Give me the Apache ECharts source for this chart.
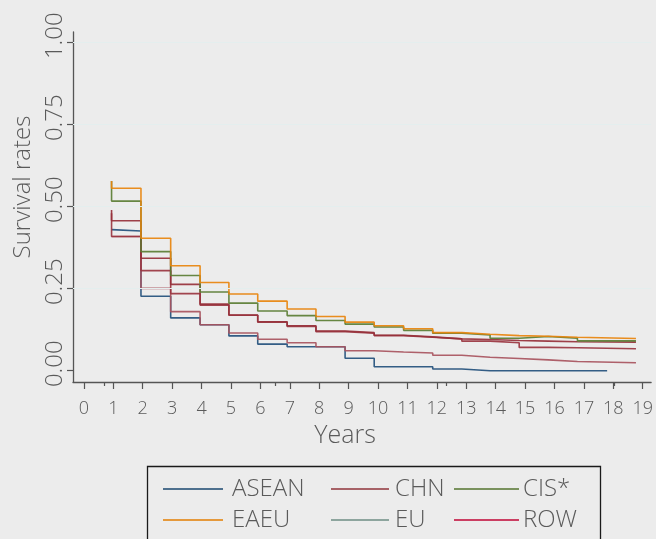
<!DOCTYPE html>
<html>
<head>
<meta charset="utf-8">
<script src="https://cdn.jsdelivr.net/npm/echarts@6/dist/echarts.min.js"></script>
<style>
html, body { margin: 0; padding: 0; background: #ececec; }
#main { width: 656px; height: 539px; }
</style>
</head>
<body>
<div id="main"></div>
<script>
const stepYears = [0.94, 1.94, 2.95, 3.95, 4.93, 5.91, 6.91, 7.89, 8.88, 9.87, 10.87, 11.86, 12.85, 13.81, 14.80, 15.79, 16.78];
const endYear = 18.77;
const endYearASEAN = 17.79;

// survival rate: value before the first step, then the level after each step
const startASEAN = 0.43;
const ratesASEAN = [0.426, 0.227, 0.161, 0.140, 0.106, 0.081, 0.073, 0.073, 0.038, 0.012, 0.012, 0.005, 0.0, 0.0, 0.0, 0.0, 0.0];
const startCHN = 0.409;
const ratesCHN = [0.409, 0.251, 0.180, 0.140, 0.115, 0.096, 0.085, 0.073, 0.061, 0.057, 0.054, 0.047, 0.041, 0.037, 0.033, 0.028, 0.024];
const startCIS = 0.578;
const ratesCIS = [0.517, 0.363, 0.290, 0.240, 0.206, 0.182, 0.168, 0.153, 0.142, 0.133, 0.123, 0.114, 0.109, 0.099, 0.104, 0.099, 0.091];
const startEAEU = 0.578;
const ratesEAEU = [0.556, 0.404, 0.320, 0.269, 0.234, 0.212, 0.188, 0.165, 0.148, 0.137, 0.128, 0.116, 0.111, 0.107, 0.105, 0.102, 0.098];
const startEU = 0.49;
const ratesEU = [0.457, 0.343, 0.263, 0.203, 0.170, 0.149, 0.137, 0.121, 0.116, 0.108, 0.103, 0.097, 0.095, 0.092, 0.090, 0.088, 0.087];
const startROW = 0.48;
const ratesROW = [0.409, 0.305, 0.235, 0.200, 0.169, 0.148, 0.135, 0.119, 0.114, 0.107, 0.102, 0.097, 0.090, 0.085, 0.071, 0.070, 0.067];

const xTicks = [0, 1, 2, 3, 4, 5, 6, 7, 8, 9, 10, 11, 12, 13, 14, 15, 16, 17, 18, 19];
const xMinorTicks = [0.70, 6.49, 12.33, 18.03];
const yTicks = [0, 0.25, 0.5, 0.75, 1];

const textColor = '#5a5a5a';
const axisColor = '#555555';
const font = '"Open Sans", sans-serif';
const weight = 300;

function buildPoints(start, rates, stop) {
  const pts = [[stepYears[0], start]];
  rates.forEach((v, i) => pts.push([stepYears[i], v]));
  pts.push([stop, rates[rates.length - 1]]);
  return pts;
}

function curve(name, color, start, rates, stop) {
  return {
    name: name,
    type: 'line',
    step: 'end',
    symbol: 'none',
    silent: true,
    lineStyle: { color: color, width: 1.6, opacity: 0.92 },
    itemStyle: { color: color },
    data: buildPoints(start, rates, stop)
  };
}

const series = [
  curve('ASEAN', '#23507c', startASEAN, ratesASEAN, endYearASEAN),
  curve('CHN', '#a8545e', startCHN, ratesCHN, endYear),
  curve('ROW', '#9a3540', startROW, ratesROW, endYear),
  curve('EU', '#96303a', startEU, ratesEU, endYear),
  curve('CIS*', '#5a7d33', startCIS, ratesCIS, endYear),
  curve('EAEU', '#e8840c', startEAEU, ratesEAEU, endYear)
];
// faint horizontal grid lines
series[0].markLine = {
  silent: true,
  symbol: 'none',
  label: { show: false },
  lineStyle: { color: '#e4eeee', width: 1, type: 'solid' },
  data: yTicks.slice(1).map(v => ({ yAxis: v }))
};

function legendItem(name, color, left, top, width, gap) {
  return {
    data: [{ name: name, itemStyle: { color: color } }],
    left: left,
    top: top,
    padding: 0,
    icon: 'rect',
    itemWidth: width,
    itemHeight: 1.5,
    selectedMode: false,
    textStyle: { fontFamily: font, fontWeight: weight, fontSize: 24, lineHeight: 28, color: textColor, padding: [0, 0, 0, gap - 5] }
  };
}

const chart = echarts.init(document.getElementById('main'));
chart.setOption({
  animation: false,
  backgroundColor: '#ececec',
  textStyle: { fontFamily: font },
  grid: { left: 73, top: 32, right: 0, bottom: 157 },
  xAxis: [{
    type: 'value',
    min: -0.371,
    max: 19.285,
    axisLine: { onZero: false, lineStyle: { color: axisColor, width: 1.3 } },
    axisTick: { customValues: xTicks, length: 7, lineStyle: { color: axisColor, width: 1.2 } },
    axisLabel: { customValues: xTicks, margin: 18, fontSize: 18, fontWeight: weight, color: textColor, fontFamily: font },
    splitLine: { show: false },
    name: 'Years',
    nameLocation: 'middle',
    nameGap: 37,
    nameTextStyle: { fontSize: 25, fontWeight: weight, color: textColor, fontFamily: font, padding: [0, 34, 0, 0] }
  }, {
    type: 'value',
    position: 'bottom',
    min: -0.371,
    max: 19.285,
    axisLine: { show: false, onZero: false },
    axisTick: { customValues: xMinorTicks, length: 4, lineStyle: { color: axisColor, width: 1.2 } },
    axisLabel: { show: false },
    splitLine: { show: false }
  }],
  yAxis: {
    type: 'value',
    min: -0.0345,
    max: 1.0326,
    axisLine: { show: true, onZero: false, lineStyle: { color: axisColor, width: 1.3 } },
    axisTick: { show: true, customValues: yTicks, length: 6, lineStyle: { color: axisColor, width: 1.2 } },
    axisLabel: { customValues: yTicks, rotate: 90, margin: 6, fontSize: 24, fontWeight: weight, color: textColor, fontFamily: font, padding: [0, 0, 0, 14], formatter: v => v.toFixed(2) },
    splitLine: { show: false },
    name: 'Survival rates',
    nameLocation: 'middle',
    nameRotate: 90,
    nameGap: 38,
    nameTextStyle: { fontSize: 24, fontWeight: weight, color: textColor, fontFamily: font, padding: [0, 0, 0, 40] }
  },
  legend: [
    legendItem('ASEAN', '#1a476f', 163, 475, 60, 9),
    legendItem('CHN', '#90353b', 331, 475, 58, 6),
    legendItem('CIS*', '#55752f', 454, 475, 65, 4),
    legendItem('EAEU', '#e37e00', 163, 506, 60, 9),
    legendItem('EU', '#6e8e84', 331, 506, 58, 6),
    legendItem('ROW', '#c10534', 454, 506, 65, 4)
  ],
  graphic: [{
    type: 'rect',
    left: 145,
    top: 464,
    shape: { width: 453, height: 90 },
    style: { fill: 'none', stroke: '#1a1a1a', lineWidth: 1.3 }
  }],
  series: series
});
</script>
</body>
</html>
